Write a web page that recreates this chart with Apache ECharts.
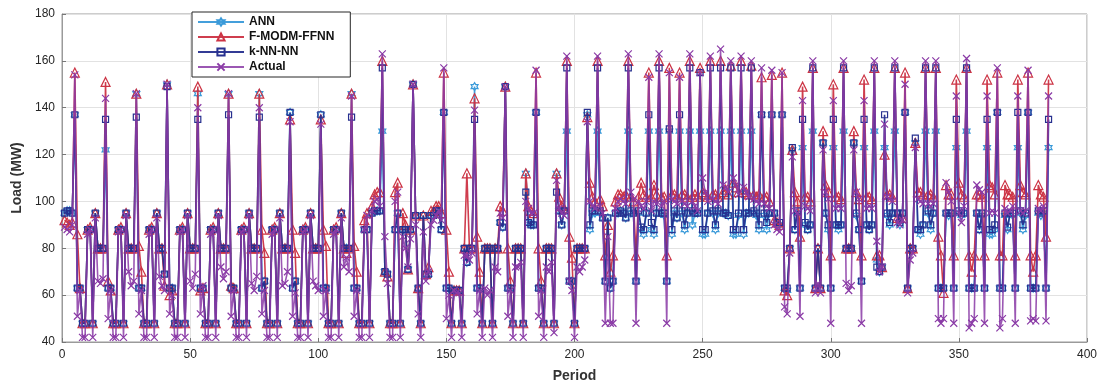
<!DOCTYPE html>
<html><head><meta charset="utf-8">
<script src="https://cdn.jsdelivr.net/npm/echarts@6/dist/echarts.min.js"></script>
<style>html,body{margin:0;padding:0;background:#fff}#c{width:1101px;height:388px}</style>
</head><body><div id="c"></div>
<script>
// ---- data ----
const xTicks = [0, 50, 100, 150, 200, 250, 300, 350, 400];
const yTicks = [40, 60, 80, 100, 120, 140, 160, 180];
const seriesNames = ['ANN', 'F-MODM-FFNN', 'k-NN-NN', 'Actual'];

const annValues = [
 [95,96,96,95],
 [137,63,63,48,48,88,88,48,95,80,80,80],
 [122,63,63,48,48,88,88,48,95,80,80,80],
 [146,63,63,48,48,88,88,48,95,80,80,69],
 [150,63,63,48,48,88,88,48,95,80,80,80],
 [146,63,63,48,48,88,88,48,95,80,80,80],
 [146,63,63,48,48,88,88,48,95,80,80,80],
 [146,63,66,48,48,88,88,48,95,80,80,80],
 [138,63,66,48,48,88,88,48,95,80,80,80],
 [137,63,63,48,48,88,88,48,95,80,80,80],
 [146,63,63,48,48,88,88,48,95,96,96,96],
 [130,70,69,48,48,88,95,48,88,88,71,88],
 [150,94,63,48,94,69,69,94,94,96,96,88],
 [138,63,63,48,62,62,62,48,80,74,80,80],
 [149,63,63,48,80,80,80,48,80,80,91,89],
 [149,63,63,48,80,80,80,48,112,91,90,90],
 [138,63,63,48,80,80,80,48,112,96,90,96],
 [130,66,66,48],[80,80,80,80],[137,88,95,95],[130,95,93,66],[93,63,66,95],[95,96,95,93],
 [130,95,95,66],[95,88,86,95],[130,88,86,95],[130,95,94,66],[130,86,95,93],[130,95,88,95],
 [130,90,95,95],[130,86,86,95],[130,95,88,95],[130,95,95,94],[130,86,86,94],[130,86,95,95],
 [130,95,94,88],[137,94,88,95],[137,95,90,90],[137,63,62,80],[122,88,95,63],[123,90,88,90],
 [130,63,80,63],[125,95,88,63],[123,90,88,90],[130,80,80,80],[125,94,88,66],[123,90,88,90],
 [130,75,70,72],[123,94,90,95],[130,95,90,95],[138,63,80,80],[125,88,86,90],[130,95,88,95],
 [130,63,63,63],[95,94,95,63],[123,95,94,95],[130,63,63,63],[95,88,94,63],[123,86,86,88],
 [138,63,63,94],[88,95,94,63],[123,95,88,94],[138,63,63,63],[95,94,95,63],[123]
].flat();

const fmodmValues = [
 [92,91,90,91],
 [155,86,63,48,48,88,89,48,95,80,80,80],
 [151,66,62,48,48,88,89,48,95,80,80,80],
 [146,81,70,48,48,88,89,48,95,80,80,64],
 [150,60,62,48,48,88,89,48,95,80,80,80],
 [149,62,63,48,48,88,89,48,95,80,80,80],
 [146,64,63,48,48,88,89,48,95,80,80,80],
 [146,88,78,48,48,88,89,48,95,80,80,80],
 [135,88,78,48,48,88,89,48,95,80,80,80],
 [135,88,81,48,48,88,89,48,95,80,78,80],
 [146,81,70,48,48,92,95,48,98,103,104,104],
 [160,70,68,48,48,104,108,48,95,90,71,88],
 [150,94,63,48,94,69,72,96,96,98,98,95],
 [155,88,70,48,62,62,62,48,80,112,80,80],
 [144,85,70,48,80,80,80,48,80,80,98,96],
 [149,80,66,48,80,80,80,48,112,98,96,95],
 [155,80,66,48,80,80,80,48,112,102,98,97],
 [160,85,76,48],[80,80,80,80],[136,108,102,100],[160,101,98,77],[90,70,77,100],[103,103,102,103],
 [160,102,100,77],[102,108,103,102],[155,102,107,103],[160,102,102,77],[157,103,103,102],[155,103,103,102],
 [160,102,103,102],[157,104,103,102],[160,103,103,102],[160,104,105,103],[158,108,106,104],[160,105,104,103],
 [158,103,102,103],[153,102,102,100],[154,92,91,90],[155,62,60,80],[122,104,100,85],[149,102,102,100],
 [157,63,80,63],[130,107,104,77],[150,102,102,101],[157,80,80,80],[130,104,101,77],[152,102,102,101],
 [157,77,77,72],[120,103,103,102],[157,93,93,93],[155,63,80,80],[125,104,104,103],[157,103,103,102],
 [157,85,77,61],[107,103,103,77],[152,108,103,102],[157,77,70,77],[103,103,102,77],[152,107,106,103],
 [155,77,77,107],[103,103,102,77],[152,107,104,103],[155,77,70,77],[107,103,102,85],[152]
].flat();

const knnValues = [
 [95,96,96,95],
 [137,63,63,48,48,88,88,48,95,80,80,80],
 [135,63,63,48,48,88,88,48,95,80,80,80],
 [136,63,63,48,48,88,88,48,95,80,80,69],
 [149,63,63,48,48,88,88,48,95,80,80,80],
 [135,63,63,48,48,88,88,48,95,80,80,80],
 [137,63,63,48,48,88,88,48,95,80,80,80],
 [136,63,66,48,48,88,88,48,95,80,80,80],
 [138,63,66,48,48,88,88,48,95,80,80,80],
 [137,63,63,48,48,88,88,48,95,80,80,80],
 [136,63,63,48,48,88,88,48,95,96,96,96],
 [157,70,69,48,48,88,95,48,88,88,71,88],
 [150,94,63,48,94,69,69,94,94,96,96,88],
 [138,63,63,48,62,62,62,48,80,74,80,80],
 [135,63,63,48,80,80,80,48,80,80,91,89],
 [149,63,63,48,80,80,80,48,104,91,90,90],
 [138,63,63,48,80,80,80,48,104,96,90,96],
 [157,66,66,48],[80,80,80,80],[138,90,96,96],[157,96,93,66],[93,63,66,95],[95,96,95,93],
 [157,96,95,66],[96,89,88,95],[137,91,88,95],[157,95,95,66],[131,88,96,93],[137,96,90,95],
 [157,96,95,95],[155,88,88,95],[157,96,90,96],[157,95,95,94],[157,88,88,95],[157,88,95,95],
 [157,96,95,90],[137,95,91,95],[137,95,91,91],[137,63,63,80],[123,88,96,63],[135,91,88,90],
 [157,63,80,63],[125,95,90,63],[135,90,90,90],[157,80,80,80],[125,95,88,66],[135,90,88,90],
 [157,72,70,72],[137,95,91,95],[157,95,91,95],[138,63,80,80],[127,88,88,90],[157,96,90,95],
 [157,63,63,63],[95,95,95,63],[135,96,95,95],[157,63,63,63],[95,88,95,63],[135,88,88,90],
 [138,63,63,95],[89,95,95,63],[138,96,90,95],[138,63,63,63],[96,95,96,63],[135]
].flat();

const actualValues = [
 [89,88,87,90],
 [154,51,62,42,42,86,88,42,93,66,65,67],
 [144,50,62,42,42,87,88,42,94,70,64,66],
 [146,52,62,42,42,86,88,42,93,68,64,62],
 [150,52,60,42,42,87,88,42,94,66,63,69],
 [140,52,64,42,42,86,88,42,94,72,67,70],
 [146,51,62,42,42,87,88,42,94,65,62,68],
 [140,52,62,42,42,86,88,42,93,64,65,70],
 [134,51,61,42,42,87,88,42,94,66,64,62],
 [133,51,62,42,42,86,88,42,93,72,76,70],
 [145,51,62,42,42,88,94,42,96,100,101,98],
 [163,85,65,42,42,100,104,42,85,80,72,84],
 [150,90,52,42,87,66,70,90,92,94,96,92],
 [157,50,60,42,62,61,61,42,77,77,75,78],
 [139,52,62,42,63,60,62,42,72,70,95,93],
 [149,51,62,42,72,72,74,42,100,97,95,95],
 [156,51,62,42,72,70,74,44,109,97,95,94],
 [162,66,62,42],[72,70,72,75],[134,100,98,97],[162,98,95,48],[85,48,48,97],[100,101,100,99],
 [163,104,101,48],[100,98,97,100],[153,96,100,99],[163,98,100,48],[155,101,100,99],[153,100,99,98],
 [163,100,98,96],[155,110,104,100],[162,101,100,99],[165,107,106,104],[160,110,107,103],[162,106,104,102],
 [160,101,100,99],[157,99,98,97],[156,90,88,87],[155,55,52,78],[119,96,95,51],[143,98,97,96],
 [160,61,65,61],[122,104,101,48],[143,97,98,97],[160,65,62,64],[122,104,101,48],[143,97,98,97],
 [160,83,70,72],[133,102,101,100],[160,91,90,92],[150,61,75,78],[123,101,100,99],[160,99,98,99],
 [160,50,48,50],[108,104,100,48],[145,95,91,98],[161,46,48,50],[107,105,104,48],[145,95,96,95],
 [157,46,50,97],[95,96,98,48],[145,96,95,96],[156,49,50,49],[97,96,98,49],[145]
].flat();

// ---- chart ----
const colors = ['#3a9ad9', '#cc3344', '#27308f', '#8a3aa6'];
const hexagram = 'path://M0,-10L2.9,-5L8.66,-5L5.8,0L8.66,5L2.9,5L0,10L-2.9,5L-8.66,5L-5.8,0L-8.66,-5L-2.9,-5Z';
const cross = 'path://M-5,-5L5,5M5,-5L-5,5';
const symbols = [hexagram, 'triangle', 'rect', cross];
const symbolSizes = [8, 9, 6, 7];
const valueSets = [annValues, fmodmValues, knnValues, actualValues];

function pairs(vals) { return vals.map((v, i) => [i + 1, v]); }

const chart = echarts.init(document.getElementById('c'), null, {renderer: 'canvas'});
chart.setOption({
  animation: false,
  backgroundColor: '#fff',
  grid: {left: 62, right: 14, top: 14, bottom: 46, show: true, borderColor: '#9a9a9a', borderWidth: 1},
  legend: {
    orient: 'vertical', left: 192, top: 12,
    itemWidth: 46, itemHeight: 9, itemGap: 3,
    padding: [4, 16, 4, 5],
    borderColor: '#262626', borderWidth: 1, backgroundColor: '#fff',
    textStyle: {fontFamily: 'Liberation Sans, Arial, sans-serif', fontWeight: 'bold', fontSize: 12, color: '#111'},
    data: seriesNames
  },
  xAxis: {
    type: 'value', min: xTicks[0], max: xTicks[xTicks.length - 1], interval: 50,
    name: 'Period', nameLocation: 'middle', nameGap: 27,
    nameTextStyle: {fontFamily: 'Liberation Sans, Arial, sans-serif', fontWeight: 'bold', fontSize: 14, color: '#333'},
    axisLine: {show: true, lineStyle: {color: '#9a9a9a', width: 1}},
    axisTick: {show: true, inside: true, length: 4, lineStyle: {color: '#777'}},
    axisLabel: {fontFamily: 'Liberation Sans, Arial, sans-serif', fontSize: 12, color: '#262626', margin: 7},
    splitLine: {show: true, lineStyle: {color: '#e2e2e2', width: 1}}
  },
  yAxis: {
    type: 'value', min: yTicks[0], max: yTicks[yTicks.length - 1], interval: 20,
    name: 'Load (MW)', nameLocation: 'middle', nameGap: 32,
    nameTextStyle: {fontFamily: 'Liberation Sans, Arial, sans-serif', fontWeight: 'bold', fontSize: 14, color: '#333'},
    axisLine: {show: true, lineStyle: {color: '#9a9a9a', width: 1}},
    axisTick: {show: true, inside: true, length: 4, lineStyle: {color: '#777'}},
    axisLabel: {fontFamily: 'Liberation Sans, Arial, sans-serif', fontSize: 12, color: '#262626', margin: 7},
    splitLine: {show: true, lineStyle: {color: '#e2e2e2', width: 1}}
  },
  series: seriesNames.map((name, k) => ({
    name: name, type: 'line', data: pairs(valueSets[k]),
    symbol: symbols[k], symbolSize: symbolSizes[k], symbolKeepAspect: true,
    showAllSymbol: true,
    lineStyle: {color: colors[k], width: 1.6, opacity: k === 3 ? 0.85 : 0.95},
    itemStyle: {color: 'rgba(255,255,255,0)', borderColor: colors[k], borderWidth: 1.2},
    emphasis: {disabled: true},
    z: 2 + k
  }))
});
</script>
</body></html>
